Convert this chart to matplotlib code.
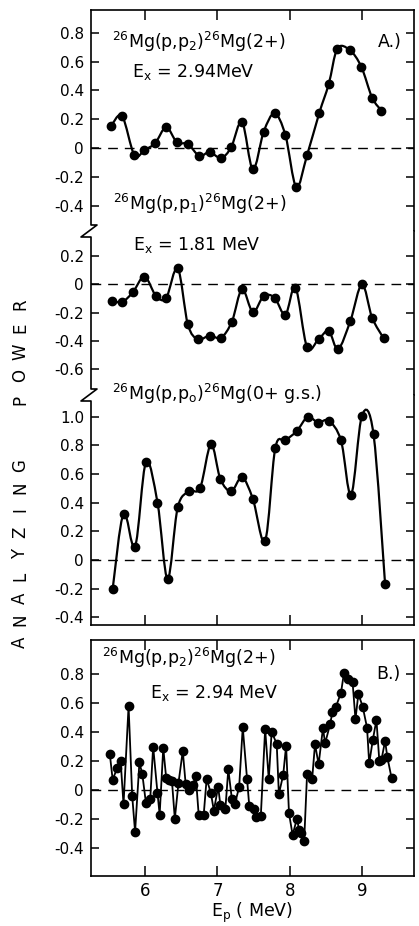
import numpy as np
import matplotlib
matplotlib.use("Agg")
import matplotlib.pyplot as plt
from matplotlib.path import Path
from matplotlib.patches import PathPatch
from matplotlib.lines import Line2D

# ---- data ----
# A.) 26Mg(p,p2) Ex=2.94 MeV
ep_p2 = [5.53, 5.68, 5.85, 5.99, 6.14, 6.29, 6.44, 6.59, 6.75, 6.89, 7.05, 7.19, 7.34,
         7.49, 7.64, 7.79, 7.94, 8.09, 8.24, 8.41, 8.54, 8.66, 8.83, 8.99, 9.14, 9.27]
ay_p2 = [0.155, 0.222, -0.049, -0.014, 0.035, 0.144, 0.039, 0.028, -0.055, -0.028, -0.069,
         0.005, 0.18, -0.148, 0.113, 0.24, 0.09, -0.27, -0.05, 0.245, 0.444, 0.69, 0.68,
         0.565, 0.35, 0.26]

# 26Mg(p,p1) Ex=1.81 MeV
ep_p1 = [5.54, 5.68, 5.83, 5.99, 6.15, 6.29, 6.45, 6.59, 6.73, 6.89, 7.05, 7.20, 7.34,
         7.49, 7.64, 7.79, 7.94, 8.08, 8.24, 8.40, 8.54, 8.67, 8.84, 9.00, 9.14, 9.30]
ay_p1 = [-0.117, -0.126, -0.058, 0.052, -0.084, -0.098, 0.11, -0.283, -0.388, -0.362,
         -0.376, -0.264, -0.037, -0.196, -0.084, -0.096, -0.215, -0.026, -0.444, -0.386,
         -0.33, -0.456, -0.258, -0.002, -0.236, -0.381]

# 26Mg(p,p0) ground state
ep_p0 = [5.55, 5.70, 5.86, 6.01, 6.17, 6.31, 6.45, 6.61, 6.76, 6.91, 7.04, 7.19, 7.34,
         7.49, 7.66, 7.80, 7.94, 8.10, 8.25, 8.39, 8.54, 8.71, 8.85, 9.00, 9.16, 9.32]
ay_p0 = [-0.201, 0.324, 0.093, 0.681, 0.40, -0.132, 0.366, 0.479, 0.502, 0.806, 0.565,
         0.479, 0.576, 0.426, 0.134, 0.78, 0.833, 0.90, 0.998, 0.958, 0.97, 0.833, 0.454,
         1.007, 0.875, -0.169]

# B.) 26Mg(p,p2) fine steps
ep_b = [5.51, 5.55, 5.61, 5.66, 5.70, 5.77, 5.82, 5.86, 5.92, 5.96,
        6.01, 6.07, 6.11, 6.17, 6.20, 6.25, 6.29, 6.33, 6.37, 6.41,
        6.46, 6.52, 6.56, 6.61, 6.66, 6.70, 6.74, 6.81, 6.85, 6.91,
        6.95, 7.01, 7.04, 7.11, 7.15, 7.20, 7.24, 7.30, 7.35, 7.41,
        7.44, 7.50, 7.54, 7.60, 7.66, 7.71, 7.75, 7.82, 7.85, 7.91,
        7.95, 7.99, 8.04, 8.10, 8.13, 8.16, 8.20, 8.24, 8.31, 8.35,
        8.40, 8.46, 8.49, 8.56, 8.59, 8.64, 8.71, 8.75, 8.81, 8.87,
        8.91, 8.95, 9.01, 9.07, 9.10, 9.15, 9.20, 9.24, 9.27, 9.32,
        9.35, 9.41]
ay_b = [0.25, 0.07, 0.15, 0.20, -0.10, 0.58, -0.04, -0.29, 0.19, 0.11,
        -0.09, -0.06, 0.30, -0.02, -0.17, 0.29, 0.085, 0.07, 0.064, -0.20,
        0.046, 0.27, 0.04, 0.0, 0.035, 0.097, -0.17, -0.17, 0.076, -0.023,
        -0.143, 0.023, -0.104, -0.129, 0.143, -0.064, -0.099, 0.019, 0.434, 0.074,
        -0.11, -0.134, -0.189, -0.18, 0.422, 0.074, 0.403, 0.318, -0.028, 0.104,
        0.306, -0.161, -0.311, -0.198, -0.277, -0.30, -0.353, 0.108, 0.074, 0.316,
        0.178, 0.427, 0.323, 0.456, 0.537, 0.576, 0.673, 0.807, 0.765, 0.745,
        0.489, 0.664, 0.576, 0.431, 0.184, 0.346, 0.484, 0.203, 0.21, 0.339,
        0.23, 0.081]

xticks = [6, 7, 8, 9]
yticks_p2 = [0.8, 0.6, 0.4, 0.2, 0, -0.2, -0.4]
yticks_p1 = [0.2, 0, -0.2, -0.4, -0.6]
yticks_p0 = [1.0, 0.8, 0.6, 0.4, 0.2, 0, -0.2, -0.4]
yticks_b = [0.8, 0.6, 0.4, 0.2, 0, -0.2, -0.4]

plt.rcParams['font.family'] = ['DejaVu Sans']
plt.rcParams['mathtext.default'] = 'regular'

W, H = 419, 926
fig = plt.figure(figsize=(W / 100, H / 100), dpi=100)


def px_ax(top, bottom, left=91, right=414):
    return fig.add_axes([left / W, 1 - bottom / H, (right - left) / W, (bottom - top) / H])


def tick_fmt(v):
    if v == 0:
        return "0"
    return "%.1f" % v


def smooth(ax, x, y):
    # Catmull-Rom curve through the points, drawn as cubic Beziers
    p = np.column_stack([x, y])
    n = len(p)
    verts = [p[0]]
    codes = [Path.MOVETO]
    for i in range(n - 1):
        p0 = p[i - 1] if i > 0 else p[i]
        p3 = p[i + 2] if i + 2 < n else p[i + 1]
        c1 = p[i] + (p[i + 1] - p0) / 6.0
        c2 = p[i + 1] - (p3 - p[i]) / 6.0
        verts += [c1, c2, p[i + 1]]
        codes += [Path.CURVE4] * 3
    ax.add_patch(PathPatch(Path(verts, codes), fill=False, lw=1.6, color='black'))


def style(ax, ylim, yticks, top_x=False, bottom_x=False, xlabels=False):
    ax.set_xlim(5.25, 9.72)
    ax.set_ylim(*ylim)
    ax.set_yticks(yticks)
    ax.set_yticklabels([tick_fmt(v) for v in yticks])
    ax.set_xticks(xticks)
    ax.tick_params(axis='y', direction='in', left=True, right=True, length=6,
                   width=1.1, labelsize=11, pad=5)
    ax.tick_params(axis='x', direction='in', top=top_x, bottom=bottom_x, length=7,
                   width=1.1, labelsize=12, labelbottom=xlabels, pad=4)
    for s in ax.spines.values():
        s.set_linewidth(1.2)
    ax.axhline(0, color='black', lw=1.0, ls=(0, (7, 5)), zorder=1)


# panel A, three stacked sections sharing one frame
ax1 = px_ax(10, 231)
style(ax1, (-0.576, 0.958), yticks_p2, top_x=True)
ax1.spines['bottom'].set_visible(False)
ax1.spines['left'].set_visible(False)
smooth(ax1, ep_p2, ay_p2)
ax1.plot(ep_p2, ay_p2, 'o', color='black', ms=6)

ax2 = px_ax(231, 395)
style(ax2, (-0.779, 0.372), yticks_p1)
ax2.spines['top'].set_visible(False)
ax2.spines['bottom'].set_visible(False)
ax2.spines['left'].set_visible(False)
smooth(ax2, ep_p1, ay_p1)
ax2.plot(ep_p1, ay_p1, 'o', color='black', ms=6)

ax3 = px_ax(395, 625)
style(ax3, (-0.453, 1.15), yticks_p0, bottom_x=True)
ax3.spines['top'].set_visible(False)
ax3.spines['left'].set_visible(False)
smooth(ax3, ep_p0, ay_p0)
ax3.plot(ep_p0, ay_p0, 'o', color='black', ms=6)

# broken left spine with zigzags
sx = [91, 91, 97, 81, 91, 91, 97, 81, 91, 91]
sy = [10, 225, 225, 237, 237, 389, 389, 401, 401, 625]
fig.add_artist(Line2D([v / W for v in sx], [1 - v / H for v in sy],
                      transform=fig.transFigure, color='black', lw=1.2))

# panel B
ax4 = px_ax(640, 876)
style(ax4, (-0.595, 1.037), yticks_b, top_x=True, bottom_x=True, xlabels=True)
ax4.plot(ep_b, ay_b, '-o', color='black', lw=1.3, ms=6)
ax4.set_xlabel(r"E$_p$ ( MeV)", fontsize=12.5, labelpad=1)


def ftext(x, y, s, **kw):
    fig.text(x / W, 1 - y / H, s, va='center', fontsize=12.5, **kw)


ftext(112, 42, r"$^{26}$Mg(p,p$_2$)$^{26}$Mg(2+)")
ftext(132, 72, r"E$_x$ = 2.94MeV")
ftext(378, 42, "A.)")
ftext(113, 204, r"$^{26}$Mg(p,p$_1$)$^{26}$Mg(2+)")
ftext(133, 245, r"E$_x$ = 1.81 MeV")
ftext(112, 394, r"$^{26}$Mg(p,p$_o$)$^{26}$Mg(0+ g.s.)")
ftext(102, 658, r"$^{26}$Mg(p,p$_2$)$^{26}$Mg(2+)")
ftext(150, 693, r"E$_x$ = 2.94 MeV")
ftext(376, 674, "B.)")

# spaced vertical axis title
for i, ch in enumerate("ANALYZING"):
    fig.text(20 / W, 1 - (642 - i * 22) / H, ch, rotation=90, ha='center',
             va='center', fontsize=12)
for i, ch in enumerate("POWER"):
    fig.text(20 / W, 1 - (400 - i * 24) / H, ch, rotation=90, ha='center',
             va='center', fontsize=12)

fig.savefig("out.png", dpi=100)
